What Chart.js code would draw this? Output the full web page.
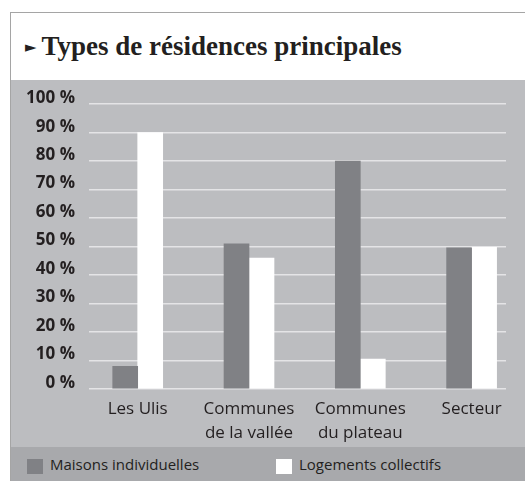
<!DOCTYPE html>
<html lang="fr">
<head>
<meta charset="utf-8">
<title>Types de résidences principales</title>
<script src="https://cdn.jsdelivr.net/npm/chart.js@4/dist/chart.umd.min.js"></script>
<style>
    body {
        margin: 0;
        width: 525px;
        height: 481px;
        overflow: hidden;
        background: #fff;
        font-family: "Open Sans", sans-serif;
        color: #231f20;
    }
    .frame {
        position: absolute;
        left: 10px;
        top: 12px;
        right: 0;
        bottom: 0;
        border-left: 1px solid #a5a5a5;
        border-top: 1px solid #a5a5a5;
    }
    .title {
        position: absolute;
        left: 14px;
        top: 17px;
        margin: 0;
        font-family: "Liberation Serif", serif;
        font-weight: bold;
        font-size: 27px;
        line-height: 32px;
        white-space: nowrap;
    }
    .title .arrow {
        font-family: "DejaVu Sans", sans-serif;
        font-size: 15px;
        vertical-align: 3px;
        margin-right: 5px;
    }
    .panel {
        position: absolute;
        left: 0;
        top: 67px;
        right: 0;
        height: 367px;
        background: #bcbdc0;
    }
    .legend {
        position: absolute;
        left: 0;
        top: 434px;
        right: 0;
        bottom: 0;
        background: #a8a9ac;
        display: flex;
        padding-left: 16px;
        font-size: 15px;
    }
    .legend-item {
        width: 256px;
        display: flex;
        align-items: center;
        height: 34px;
    }
    .legend-box {
        width: 16px;
        height: 15px;
        margin-right: 7px;
        margin-top: 4px;
    }
</style>
</head>
<body>
<div class="frame">
    <h1 class="title"><span class="arrow">►</span>Types de résidences principales</h1>
    <div class="panel">
        <canvas id="residencesChart" width="514" height="367"></canvas>
    </div>
    <div class="legend" id="legend"></div>
</div>
<script>
// Categories (multi-line labels)
const categories = [['Les Ulis'], ['Communes', 'de la vallée'], ['Communes', 'du plateau'], ['Secteur']];

// Series values, in %
const maisonsIndividuelles = [8, 51, 80, 49.6];
const logementsCollectifs = [90, 46, 10.5, 49.7];

const seriesNames = ['Maisons individuelles', 'Logements collectifs'];
const seriesColors = ['#808185', '#ffffff'];

const textColor = '#231f20';
const sansFont = '"Open Sans", sans-serif';

function toPoints(values) {
    return values.map((v, i) => ({ x: i, y: v }));
}

const chart = new Chart(document.getElementById('residencesChart'), {
    type: 'bar',
    data: {
        datasets: [
            {
                label: seriesNames[0],
                data: toPoints(maisonsIndividuelles),
                backgroundColor: seriesColors[0],
                barThickness: 25
            },
            {
                label: seriesNames[1],
                data: toPoints(logementsCollectifs),
                backgroundColor: seriesColors[1],
                barThickness: 25
            }
        ]
    },
    options: {
        responsive: false,
        animation: false,
        devicePixelRatio: 1,
        layout: {
            padding: { top: 23, right: 19, left: 0, bottom: 0 }
        },
        plugins: {
            legend: { display: false },
            tooltip: { enabled: false }
        },
        scales: {
            x: {
                type: 'linear',
                offset: false,
                min: -0.4376,
                max: 3.309,
                grid: { display: false, offset: false },
                border: { display: false },
                afterBuildTicks: function(axis) {
                    axis.ticks = categories.map((c, i) => ({ value: i }));
                },
                afterFit: function(scale) {
                    scale.height = 58;
                },
                ticks: {
                    autoSkip: false,
                    maxRotation: 0,
                    padding: 0,
                    color: textColor,
                    font: { family: sansFont, size: 17, lineHeight: 1.4 },
                    callback: function(value) {
                        return categories[value];
                    }
                }
            },
            y: {
                min: 0,
                max: 100,
                grid: {
                    color: '#e4e4e6',
                    lineWidth: 1.5,
                    drawTicks: false
                },
                border: { display: false },
                afterFit: function(scale) {
                    scale.width = 78;
                },
                ticks: {
                    stepSize: 10,
                    padding: 14,
                    labelOffset: -6,
                    color: textColor,
                    font: { family: sansFont, size: 17, weight: 'bold' },
                    callback: function(value) {
                        return value + ' %';
                    }
                }
            }
        }
    }
});

// HTML legend built from the datasets
const legendEl = document.getElementById('legend');
chart.data.datasets.forEach(ds => {
    const item = document.createElement('div');
    item.className = 'legend-item';
    const box = document.createElement('span');
    box.className = 'legend-box';
    box.style.background = ds.backgroundColor;
    const label = document.createElement('span');
    label.textContent = ds.label;
    item.appendChild(box);
    item.appendChild(label);
    legendEl.appendChild(item);
});
</script>
</body>
</html>
